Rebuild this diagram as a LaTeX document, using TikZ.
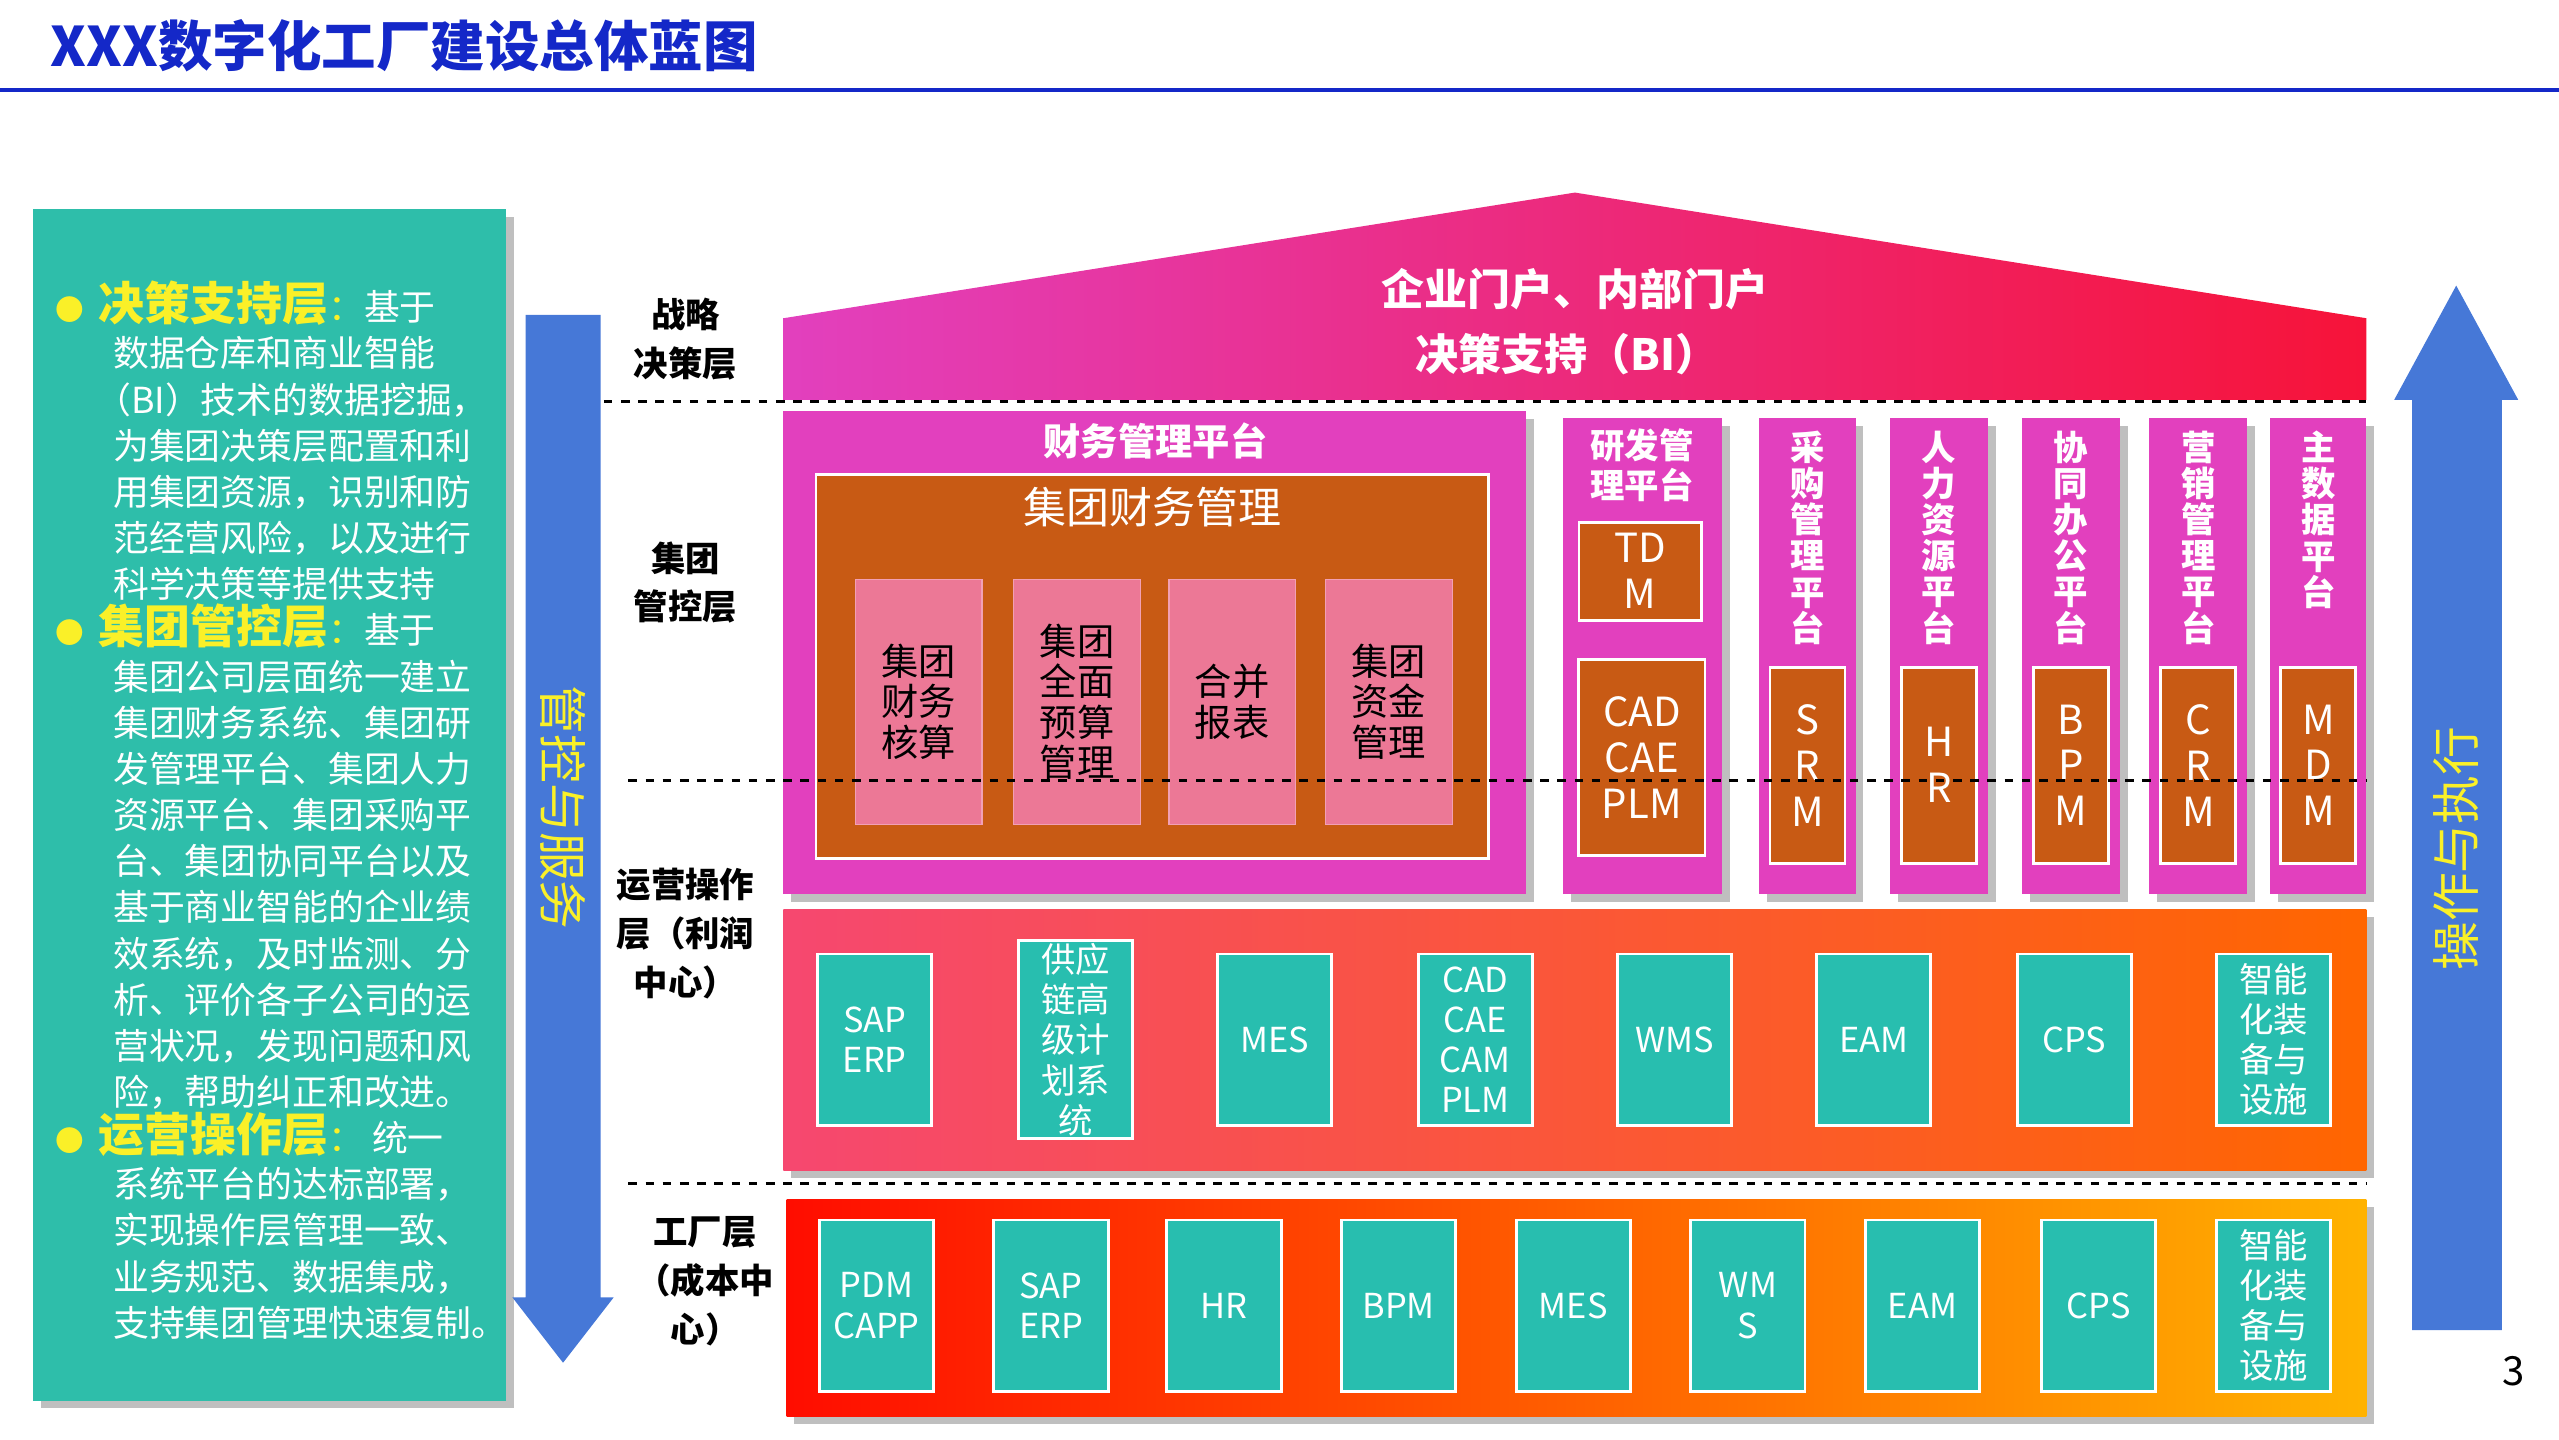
\documentclass[tikz,border=0pt]{standalone}
\usepackage{fontspec}
\setmainfont{Noto Sans CJK SC}
\usetikzlibrary{positioning, calc, shadows}
\definecolor{titleblue}{RGB}{20,40,200}
\definecolor{teal}{RGB}{46,190,170}
\definecolor{tealbox}{RGB}{40,190,175}
\definecolor{arrowblue}{RGB}{70,120,215}
\definecolor{magenta}{RGB}{226,64,190}
\definecolor{rustbox}{RGB}{200,90,20}
\definecolor{pinkbox}{RGB}{236,120,150}
\definecolor{hlyellow}{RGB}{250,240,40}
\newcommand{\bulhead}[1]{{\color{hlyellow}\fontsize{10}{10}\selectfont●\hspace{0.5em}\fontsize{16}{15}\selectfont\bfseries #1}{\color{hlyellow}：}}
\tikzset{
  layerlabel/.style={font=\fontsize{12}{17}\selectfont\bfseries, align=center},
  tealcell/.style={draw=white, line width=1pt, fill=tealbox, text=white, align=center, minimum width=1.4cm, minimum height=2.1cm, inner sep=1pt, font=\fontsize{12}{14}\selectfont},
  rustcell/.style={draw=white, line width=1pt, fill=rustbox, text=white, align=center, inner sep=1pt, font=\fontsize{14}{16}\selectfont},
  pinkcell/.style={draw=pinkbox!70!white, fill=pinkbox, align=center, minimum width=1.55cm, minimum height=3cm, font=\fontsize{13}{14}\selectfont},
  coltitle/.style={text=white, font=\fontsize{13}{15}\selectfont\bfseries, align=center},
  divider/.style={dashed, line width=1pt}
}
\begin{document}
\begin{tikzpicture}[x=0.02cm, y=-0.02cm]
\useasboundingbox (0,0) rectangle (1568,882);
% title
\node (title) [anchor=west, text=titleblue, font=\fontsize{19}{20}\selectfont\bfseries] at (25,28) {XXX数字化工厂建设总体蓝图};
\draw [titleblue, line width=1.5pt] (0,55) -- (1568,55);
% left text panel
\node (panel) [fill=teal, drop shadow, minimum width=5.8cm, minimum height=14.6cm, anchor=north west] at (20,128) {};
\node (paneltext) [anchor=north west, text=white, align=left, font=\fontsize{12.5}{16.1}\selectfont] at (28,166) {%
\bulhead{决策支持层}基于\\
\hspace{1.6em}数据仓库和商业智能\\
\hspace{1.1em}（BI）技术的数据挖掘，\\
\hspace{1.6em}为集团决策层配置和利\\
\hspace{1.6em}用集团资源，识别和防\\
\hspace{1.6em}范经营风险，以及进行\\
\hspace{1.6em}科学决策等提供支持\\
\bulhead{集团管控层}基于\\
\hspace{1.6em}集团公司层面统一建立\\
\hspace{1.6em}集团财务系统、集团研\\
\hspace{1.6em}发管理平台、集团人力\\
\hspace{1.6em}资源平台、集团采购平\\
\hspace{1.6em}台、集团协同平台以及\\
\hspace{1.6em}基于商业智能的企业绩\\
\hspace{1.6em}效系统，及时监测、分\\
\hspace{1.6em}析、评价各子公司的运\\
\hspace{1.6em}营状况，发现问题和风\\
\hspace{1.6em}险，帮助纠正和改进。\\
\bulhead{运营操作层}~统一\\
\hspace{1.6em}系统平台的达标部署，\\
\hspace{1.6em}实现操作层管理一致、\\
\hspace{1.6em}业务规范、数据集成，\\
\hspace{1.6em}支持集团管理快速复制。};
% side arrows
\fill [arrowblue] (322,193) -- (368,193) -- (368,795) -- (376,795) -- (345,835) -- (314,795) -- (322,795) -- cycle;
\node (mgmt) [rotate=-90, text=hlyellow, font=\fontsize{17}{18}\selectfont] at (345,495) {管控与服务};
\fill [arrowblue] (1478,815) -- (1533,815) -- (1533,245) -- (1543,245) -- (1505,175) -- (1467,245) -- (1478,245) -- cycle;
\node (exec) [rotate=90, text=hlyellow, font=\fontsize{17}{18}\selectfont] at (1505,520) {操作与执行};
% layer labels
\node (l1) [layerlabel] at (420,208) {战略\\决策层};
\node (l2) [layerlabel] at (420,357) {集团\\管控层};
\node (l3) [layerlabel] at (420,572) {运营操作\\层（利润\\中心）};
\node (l4) [layerlabel] at (432,785) {工厂层\\（成本中\\心）};
% roof
\shade [left color=magenta, right color=red!70!magenta] (480,195) -- (965,118) -- (1450,195) -- (1450,245) -- (480,245) -- cycle;
\node (portal) [coltitle, font=\fontsize{15}{16}\selectfont\bfseries] at (965,177) {企业门户、内部门户};
\node (bi) [coltitle, font=\fontsize{15}{16}\selectfont\bfseries] at (960,217) {决策支持（BI）};
% finance platform
\fill [magenta, drop shadow] (480,252) rectangle (935,548);
\node (fin) [coltitle] at (708,270) {财务管理平台};
\draw [white, line width=1pt, fill=rustbox] (500,291) rectangle (912,526);
\node (grpfin) [text=white, font=\fontsize{15}{16}\selectfont] at (706,311) {集团财务管理};
\foreach \cx/\txt [count=\i] in {563/集团\\财务\\核算, 660/集团\\全面\\预算\\管理, 755/合并\\报表, 851/集团\\资金\\管理}
  \node (fin\i) [pinkcell] at (\cx,430) {\txt};
% platform columns
\fill [magenta, drop shadow] (958,256) rectangle (1055,548);
\node (rd) [coltitle, font=\fontsize{12}{14}\selectfont\bfseries] at (1006,285) {研发管\\理平台};
\node (tdm) [rustcell, minimum width=1.5cm, minimum height=1.2cm] at (1005,350) {TD\\M};
\node (cad) [rustcell, minimum width=1.55cm, minimum height=2.4cm] at (1006,464) {CAD\\CAE\\PLM};
\foreach \xa/\xb/\ttl/\sys [count=\i] in {1078/1137/采\\购\\管\\理\\平\\台/S\\R\\M, 1158/1218/人\\力\\资\\源\\平\\台/H\\R, 1239/1299/协\\同\\办\\公\\平\\台/B\\P\\M, 1317/1377/营\\销\\管\\理\\平\\台/C\\R\\M, 1391/1450/主\\数\\据\\平\\台/M\\D\\M}{
  \fill [magenta, drop shadow] (\xa,256) rectangle (\xb,548);
  \node (plat\i) [coltitle, anchor=north, inner sep=1pt, font=\fontsize{12}{12.6}\selectfont\bfseries] at ({(\xa+\xb)/2},262) {\ttl};
  \node (sys\i) [rustcell, minimum width=0.92cm, minimum height=2.4cm, anchor=north] at ({(\xa+\xb)/2},408) {\sys};
}
% operation layer
\shade [left color=red!60!magenta!80!white, right color=orange!80!red, drop shadow] (480,557) rectangle (1450,717);
\foreach \cx/\txt [count=\i] in {536/SAP\\ERP, 659/供应\\链高\\级计\\划系\\统, 781/MES, 904/CAD\\CAE\\CAM\\PLM, 1026/WMS, 1148/EAM, 1271/CPS, 1393/智能\\化装\\备与\\设施}
  \node (op\i) [tealcell] at (\cx,637) {\txt};
% factory layer
\shade [left color=red!90!orange, right color=orange!60!yellow, drop shadow] (482,735) rectangle (1450,868);
\foreach \cx/\txt [count=\i] in {537/PDM\\CAPP, 644/SAP\\ERP, 750/HR, 857/BPM, 964/MES, 1071/WM\\S, 1178/EAM, 1286/CPS, 1393/智能\\化装\\备与\\设施}
  \node (fa\i) [tealcell] at (\cx,800) {\txt};
% dividers
\draw [divider] (370,246) -- (1450,246);
\draw [divider] (385,478) -- (1450,478);
\draw [divider] (385,725) -- (1450,725);
\node (page) [font=\fontsize{14}{14}\selectfont] at (1540,840) {3};
\end{tikzpicture}
\end{document}
